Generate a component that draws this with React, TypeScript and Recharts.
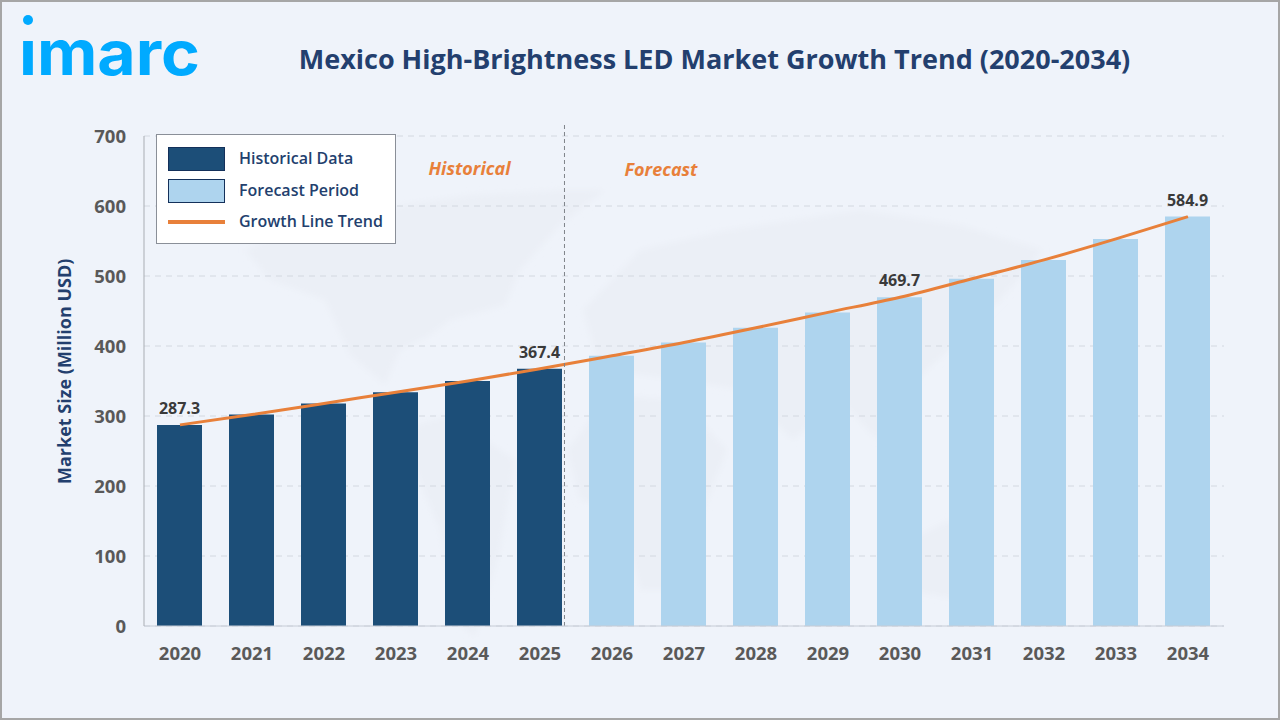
import React from 'react';
import { ComposedChart, Bar, Line, XAxis, YAxis, CartesianGrid, ReferenceLine, LabelList } from 'recharts';

const years = [2020, 2021, 2022, 2023, 2024, 2025, 2026, 2027, 2028, 2029, 2030, 2031, 2032, 2033, 2034];
const historical = [287.3, 302, 318, 334, 350, 367.4];
const forecast = [386, 405, 426, 448, 469.7, 496, 523, 553, 584.9];
const trend = [287.3, 302, 318, 334, 350, 367.4, 386, 405, 426, 448, 469.7, 496, 523, 553, 584.9];
const labelled = [2020, 2025, 2030, 2034];
const yTicks = [0, 100, 200, 300, 400, 500, 600, 700];

const data = years.map((year, i) => ({
  year,
  hist: i < historical.length ? historical[i] : undefined,
  fore: i >= historical.length ? forecast[i - historical.length] : undefined,
  trend: trend[i],
  label: labelled.includes(year) ? trend[i].toFixed(1) : undefined,
}));

const FONT = '"Open Sans", sans-serif';
const NAVY = '#233f6e';
const ORANGE = '#e8803a';
const DARK = '#1c4e78';
const LIGHT = '#aed4ee';
const labelStyle = { fontFamily: FONT, fontWeight: 700, fontSize: 16, fill: '#3a3a3a' };
const tickStyle = { fontFamily: FONT, fontWeight: 700, fontSize: 18.5, fill: '#595959' };

const legendRows = [
  { name: 'Historical Data', kind: 'bar', color: DARK },
  { name: 'Forecast Period', kind: 'bar', color: LIGHT },
  { name: 'Growth Line Trend', kind: 'line', color: ORANGE },
];

function LegendBox() {
  return (
    <div style={{ position: 'absolute', left: 156, top: 134, width: 240, height: 110, boxSizing: 'border-box', background: '#fff', border: '1px solid #8a8f98', fontFamily: FONT }}>
      {legendRows.map((r, i) => (
        <div key={r.name} style={{ position: 'absolute', left: 11, top: 12 + i * 31.5, height: 24, display: 'flex', alignItems: 'center' }}>
          <div style={{ width: 57, height: r.kind === 'bar' ? 24 : 4, boxSizing: 'border-box', background: r.color, border: r.kind === 'bar' ? '1px solid #14305a' : 'none' }} />
          <span style={{ marginLeft: 14, marginTop: -2, fontSize: 16, fontWeight: 600, color: NAVY, whiteSpace: 'nowrap' }}>{r.name}</span>
        </div>
      ))}
    </div>
  );
}

export default function App() {
  return (
    <div style={{ position: 'absolute', left: 0, top: 0, width: 1280, height: 720, boxSizing: 'border-box', background: '#eff3fa', border: '2px solid #a6a6a6', overflow: 'hidden' }}>
      <div style={{ position: 'absolute', left: -2, top: -2, width: 1280, height: 720 }}>
        <svg width={1280} height={720} style={{ position: 'absolute', left: 0, top: 0 }}>
          <defs>
            <filter id="soft"><feGaussianBlur stdDeviation="3" /></filter>
          </defs>
          <g fill="#ebeff6" filter="url(#soft)">
            <path d="M245 250 L300 225 L360 230 L400 205 L470 195 L560 190 L605 190 L560 225 L520 270 L505 305 L450 320 L430 335 L400 350 L385 385 L350 355 L325 300 L270 280 Z" />
            <path d="M415 425 L450 415 L515 460 L500 550 L475 637 L455 620 L440 530 L415 470 Z" />
            <path d="M583 310 L640 250 L727 230 L860 210 L960 225 L1043 250 L1000 300 L960 340 L927 370 L900 400 L877 440 L840 400 L793 440 L740 390 L680 380 L600 370 Z" />
            <path d="M567 450 L610 395 L680 400 L727 450 L700 520 L670 590 L640 590 L620 510 L580 500 Z" />
            <path d="M900 545 L950 520 L985 560 L960 600 L905 590 Z" />
          </g>
          <circle cx={28} cy={20} r={5} fill="#00aaff" />
          <text x={19} y={75} fontFamily="Inter, sans-serif" fontWeight={700} fontSize={62} fill="#00aaff" textLength={181} lengthAdjust="spacingAndGlyphs">ımarc</text>
          <text x={714.5} y={69} textAnchor="middle" fontFamily={FONT} fontWeight={700} fontSize={27} fill={NAVY}>Mexico High-Brightness LED Market Growth Trend (2020-2034)</text>
          <text x={469.5} y={175} textAnchor="middle" fontFamily={FONT} fontWeight={700} fontStyle="italic" fontSize={18} fill={ORANGE}>Historical</text>
          <text x={661} y={176} textAnchor="middle" fontFamily={FONT} fontWeight={700} fontStyle="italic" fontSize={18} fill={ORANGE}>Forecast</text>
        </svg>
        <ComposedChart
          width={1280}
          height={720}
          data={data}
          margin={{ top: 136, right: 56, bottom: 64, left: 0 }}
          style={{ position: 'absolute', left: 0, top: 0 }}
          barGap={0}
        >
          <CartesianGrid horizontal vertical={false} stroke="#d3d8e0" strokeDasharray="6 5" />
          <XAxis
            dataKey="year"
            type="number"
            domain={[2019.5, 2034.5]}
            ticks={years}
            allowDataOverflow
            interval={0}
            axisLine={{ stroke: '#c6ccd6' }}
            tickLine={false}
            tickMargin={15}
            height={30}
            tick={tickStyle}
          />
          <YAxis
            domain={[0, 700]}
            ticks={yTicks}
            width={144}
            axisLine={{ stroke: '#a9adb3' }}
            tickLine={false}
            tickMargin={12}
            tick={tickStyle}
            label={{ value: 'Market Size (Million USD)', angle: -90, position: 'insideLeft', offset: 0, dx: 65, dy: 103, style: { fontFamily: FONT, fontWeight: 700, fontSize: 18, fill: NAVY } }}
          />
          <Bar dataKey="hist" name="Historical Data" stackId="s" barSize={45} fill={DARK} isAnimationActive={false}>
            <LabelList dataKey="label" position="top" offset={11} style={labelStyle} />
          </Bar>
          <Bar dataKey="fore" name="Forecast Period" stackId="s" barSize={45} fill={LIGHT} isAnimationActive={false}>
            <LabelList dataKey="label" position="top" offset={11} style={labelStyle} />
          </Bar>
          <Line dataKey="trend" name="Growth Line Trend" type="monotone" stroke={ORANGE} strokeWidth={3} dot={false} activeDot={false} isAnimationActive={false} />
          <ReferenceLine ifOverflow="visible" segment={[{ x: 2025.34, y: 0 }, { x: 2025.34, y: 720 }]} stroke="#7f8389" strokeDasharray="4 3" />
        </ComposedChart>
        <LegendBox />
      </div>
    </div>
  );
}
